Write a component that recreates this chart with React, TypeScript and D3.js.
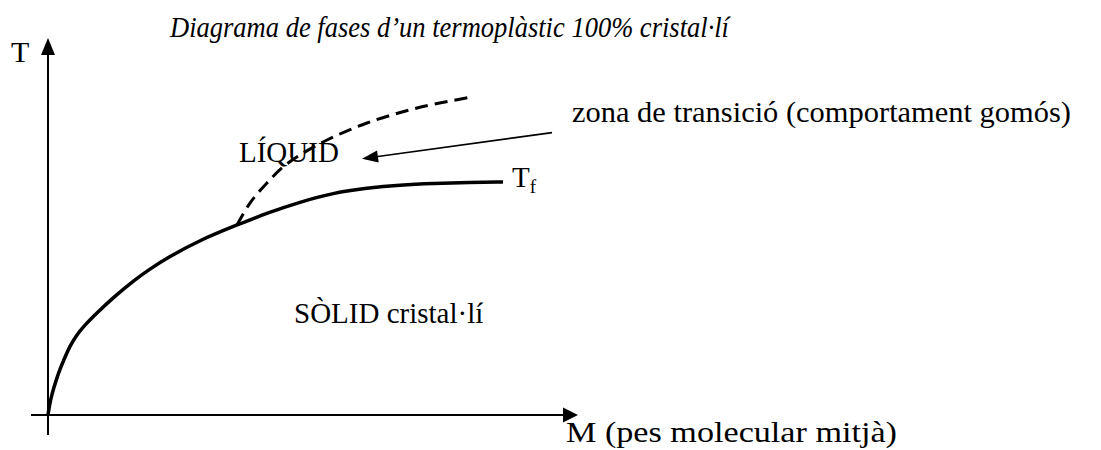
import React from "react";
import * as d3 from "d3";

// Data (abstract units: M along x, T along y)
const solidM = [0, 0.028, 0.075, 0.142, 0.226, 0.321, 0.415, 0.528, 0.66, 0.919, 1.264, 1.604, 1.925, 2.245, 2.868, 3.566, 4.132, 4.755, 5.377, 6.019, 6.642, 7.264, 7.962, 8.585];
const solidT = [0, 0.265, 0.557, 0.875, 1.22, 1.538, 1.83, 2.095, 2.334, 2.706, 3.156, 3.554, 3.873, 4.164, 4.642, 5.04, 5.358, 5.65, 5.889, 6.021, 6.101, 6.141, 6.167, 6.18];
const dashM = [3.566, 3.811, 4.132, 4.434, 4.755, 5.264, 6.019, 6.962, 8.0];
const dashT = [5.04, 5.623, 6.154, 6.578, 6.897, 7.294, 7.745, 8.143, 8.435];

const title = "Diagrama de fases d\u2019un termoplàstic 100% cristal·lí";
const yLabel = "T";
const xLabel = "M (pes molecular mitjà)";
const liquidLabel = "LÍQUID";
const solidLabel = "SÒLID cristal·lí";
const transLabel = "zona de transició (comportament gomós)";
const tfMain = "T";
const tfSub = "f";

const W = 1101;
const H = 450;

export default function App() {
  const x = d3.scaleLinear().domain([0, 10]).range([48, 578]);
  const y = d3.scaleLinear().domain([0, 10]).range([415, 38]);

  const lineSolid = d3
    .line<[number, number]>()
    .x((d) => x(d[0]))
    .y((d) => y(d[1]))
    .curve(d3.curveBasis);
  const lineDash = d3
    .line<[number, number]>()
    .x((d) => x(d[0]))
    .y((d) => y(d[1]))
    .curve(d3.curveCatmullRom.alpha(0.5));

  const solidPts: [number, number][] = solidM.map((m, i) => [m, solidT[i]]);
  const dashPts: [number, number][] = dashM.map((m, i) => [m, dashT[i]]);

  const font = "'Liberation Serif', 'Times New Roman', serif";

  // arrow annotation (in data units)
  const a0: [number, number] = [9.51, 7.49];
  const a1: [number, number] = [5.925, 6.8];
  const ax0 = x(a0[0]), ay0 = y(a0[1]), ax1 = x(a1[0]), ay1 = y(a1[1]);
  const ang = Math.atan2(ay1 - ay0, ax1 - ax0);
  const hl = 16, hw = 6;
  const bx = ax1 - hl * Math.cos(ang), by = ay1 - hl * Math.sin(ang);
  const head = `M${ax1},${ay1} L${bx + hw * Math.sin(ang)},${by - hw * Math.cos(ang)} L${bx - hw * Math.sin(ang)},${by + hw * Math.cos(ang)} Z`;

  const ox = x(0), oy = y(0);
  const yTop = y(10), xRight = x(10);

  return (
    <svg width={W} height={H} style={{ position: "absolute", left: 0, top: 0, background: "#fff" }}>
      <rect width={W} height={H} fill="#fff" />
      {/* axes */}
      <line x1={ox} y1={oy + 20} x2={ox} y2={yTop + 15} stroke="#000" strokeWidth={2} />
      <path d={`M${ox},${yTop} L${ox - 7},${yTop + 17} L${ox + 7},${yTop + 17} Z`} fill="#000" />
      <line x1={ox - 17} y1={oy} x2={xRight - 13} y2={oy} stroke="#000" strokeWidth={2} />
      <path d={`M${xRight},${oy} L${xRight - 15},${oy - 7.5} L${xRight - 15},${oy + 7.5} Z`} fill="#000" />

      {/* curves */}
      <path d={lineDash(dashPts) || ""} fill="none" stroke="#000" strokeWidth={3} strokeDasharray="13 7" />
      <path d={lineSolid(solidPts) || ""} fill="none" stroke="#000" strokeWidth={3.5} />

      {/* annotation arrow */}
      <line x1={ax0} y1={ay0} x2={bx} y2={by} stroke="#000" strokeWidth={1.6} />
      <path d={head} fill="#000" />

      {/* texts */}
      <text x={170} y={37} fontFamily={font} fontStyle="italic" fontSize={29} textLength={559} lengthAdjust="spacingAndGlyphs">{title}</text>
      <text x={11} y={62} fontFamily={font} fontSize={30}>{yLabel}</text>
      <text x={239} y={162} fontFamily={font} fontSize={29}>{liquidLabel}</text>
      <text x={572} y={122} fontFamily={font} fontSize={29} textLength={499} lengthAdjust="spacingAndGlyphs">{transLabel}</text>
      <text x={512} y={187} fontFamily={font} fontSize={29}>
        {tfMain}
        <tspan fontSize={19} dy={6}>{tfSub}</tspan>
      </text>
      <text x={294} y={323} fontFamily={font} fontSize={29}>{solidLabel}</text>
      <text x={566} y={442} fontFamily={font} fontSize={29} textLength={331} lengthAdjust="spacingAndGlyphs">{xLabel}</text>
    </svg>
  );
}
